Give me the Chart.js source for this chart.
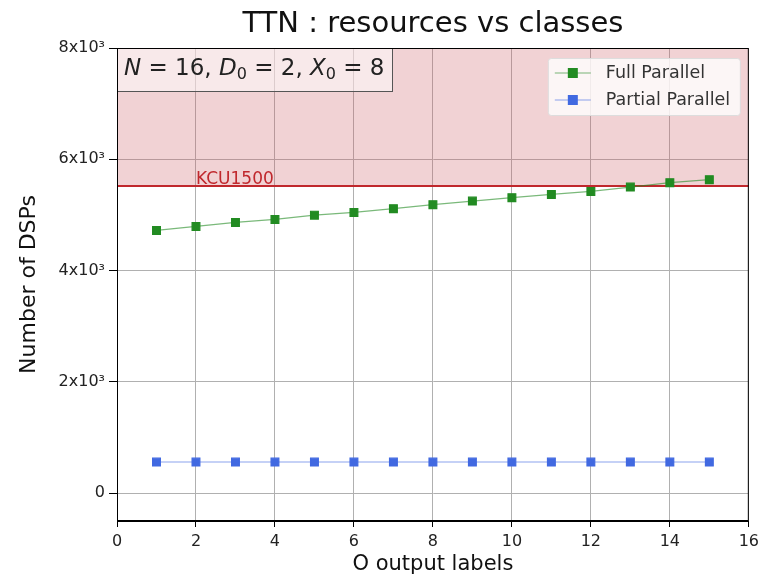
<!DOCTYPE html>
<html>
<head>
<meta charset="utf-8">
<script src="https://cdn.jsdelivr.net/npm/chart.js@4"></script>
<style>
  html, body { margin: 0; padding: 0; background: #fff; }
  #wrap { width: 764px; height: 577px; }
</style>
</head>
<body>
<div id="wrap"><canvas id="dspChart" width="764" height="577"></canvas></div>
<script>
// valores
const labelsO = [1, 2, 3, 4, 5, 6, 7, 8, 9, 10, 11, 12, 13, 14, 15];
const fullParallel = [4721, 4793, 4865, 4919, 4996, 5045, 5112, 5184, 5249, 5310, 5369, 5423, 5501, 5580, 5634];
const partialParallel = [560, 560, 560, 560, 560, 560, 560, 560, 560, 560, 560, 560, 560, 560, 560];
const kcuLimit = 5520;
const kcuSpan = [0, 16];
const yTicks = [0, 2000, 4000, 6000, 8000];
const xTicks = [0, 2, 4, 6, 8, 10, 12, 14, 16];

const fuente = "'DejaVu Sans', sans-serif";

function aPuntos(xs, ys) {
    return xs.map((x, i) => ({ x: x, y: ys[i] }));
}

function etiquetaY(v) {
    if (v === 0) return '0';
    return (v / 1000) + 'x10³';
}

// titulo, recuadro, texto KCU1500, anotacion y leyenda
const extras = {
    id: 'extras',
    afterDatasetsDraw(chart) {
        const ctx = chart.ctx;
        const a = chart.chartArea;
        const xs = chart.scales.x, ys = chart.scales.y;
        ctx.save();

        // titulo centrado sobre el area del grafico
        ctx.fillStyle = '#111';
        ctx.font = "29px " + fuente;
        ctx.textAlign = 'center';
        ctx.textBaseline = 'middle';
        ctx.fillText('TTN : resources vs classes', (a.left + a.right) / 2, 24);

        // texto KCU1500
        ctx.fillStyle = '#c0282d';
        ctx.font = "17px " + fuente;
        ctx.textBaseline = 'bottom';
        ctx.textAlign = 'left';
        ctx.fillText('KCU1500', xs.getPixelForValue(2), ys.getPixelForValue(kcuLimit) + 2);

        // caja de parametros
        ctx.fillStyle = 'rgba(255,255,255,0.5)';
        ctx.fillRect(a.left, a.top, 275, 43);
        ctx.strokeStyle = '#555';
        ctx.lineWidth = 1;
        ctx.strokeRect(a.left + 0.5, a.top + 0.5, 275, 43);
        ctx.fillStyle = '#222';
        ctx.textBaseline = 'middle';
        let px = a.left + 7;
        const py = a.top + 21;
        const partes = [
            ['italic', 'N'], ['normal', ' = 16, '], ['italic', 'D'], ['sub', '0'],
            ['normal', ' = 2, '], ['italic', 'X'], ['sub', '0'], ['normal', ' = 8']
        ];
        partes.forEach(p => {
            if (p[0] === 'sub') {
                ctx.font = "16px " + fuente;
                ctx.fillText(p[1], px, py + 6);
            } else {
                ctx.font = (p[0] === 'italic' ? 'italic ' : '') + "23px " + fuente;
                ctx.fillText(p[1], px, py);
            }
            px += ctx.measureText(p[1]).width;
        });

        // leyenda
        const lx = a.right - 201, ly = a.top + 10, lw = 192, lh = 57;
        ctx.fillStyle = 'rgba(255,255,255,0.8)';
        ctx.strokeStyle = '#ddd';
        ctx.beginPath();
        ctx.roundRect(lx + 0.5, ly + 0.5, lw, lh, 3);
        ctx.fill();
        ctx.stroke();
        const items = [
            ['Full Parallel', '#228b22', 'rgba(34,139,34,0.6)'],
            ['Partial Parallel', '#4169e1', 'rgba(65,105,225,0.6)']
        ];
        ctx.font = "17.5px " + fuente;
        ctx.textBaseline = 'middle';
        items.forEach((it, i) => {
            const y = ly + 15 + i * 27;
            ctx.strokeStyle = it[2];
            ctx.lineWidth = 1.2;
            ctx.beginPath();
            ctx.moveTo(lx + 7, y);
            ctx.lineTo(lx + 43, y);
            ctx.stroke();
            ctx.fillStyle = it[1];
            ctx.fillRect(lx + 20, y - 5, 10, 10);
            ctx.fillStyle = '#333';
            ctx.fillText(it[0], lx + 58, y);
        });

        // marco
        ctx.strokeStyle = '#000';
        ctx.lineWidth = 1;
        ctx.strokeRect(a.left + 0.5, a.top + 0.5, a.width - 1, a.height - 1);
        ctx.restore();
    }
};

const data = {
    datasets: [
        {
            label: 'KCU1500',
            data: aPuntos(kcuSpan, [kcuLimit, kcuLimit]),
            borderColor: '#c0282d',
            borderWidth: 2,
            backgroundColor: 'rgba(205,92,100,0.28)',
            fill: 'end',
            pointRadius: 0,
            order: 3
        },
        {
            label: 'Full Parallel',
            data: aPuntos(labelsO, fullParallel),
            borderColor: 'rgba(34,139,34,0.6)',
            borderWidth: 1.2,
            backgroundColor: '#228b22',
            pointBackgroundColor: '#228b22',
            pointBorderColor: '#228b22',
            pointStyle: 'rect',
            pointRadius: 5.5,
            order: 1
        },
        {
            label: 'Partial Parallel',
            data: aPuntos(labelsO, partialParallel),
            borderColor: 'rgba(65,105,225,0.6)',
            borderWidth: 1.2,
            backgroundColor: '#4169e1',
            pointBackgroundColor: '#4169e1',
            pointBorderColor: '#4169e1',
            pointStyle: 'rect',
            pointRadius: 5.5,
            order: 2
        }
    ]
};

const config = {
    type: 'line',
    data: data,
    options: {
        responsive: false,
        animation: false,
        layout: { padding: { left: 0, right: 14, top: 48, bottom: 0 } },
        plugins: {
            legend: { display: false },
            tooltip: { enabled: false },
            title: { display: false }
        },
        scales: {
            x: {
                type: 'linear',
                min: 0,
                max: 16,
                afterBuildTicks: (s) => { s.ticks = xTicks.map(v => ({ value: v })); },
                afterFit: (s) => { s.height = 56; },
                grid: { color: '#b0b0b0', lineWidth: 1, tickLength: 6, tickColor: '#000' },
                border: { color: '#000' },
                ticks: { color: '#222', font: { family: fuente, size: 16 }, padding: 5, maxRotation: 0 },
                title: { display: true, text: 'O output labels', color: '#111', font: { family: fuente, size: 21 }, padding: { top: 0, bottom: 0 } }
            },
            y: {
                type: 'linear',
                min: -500,
                max: 8000,
                afterBuildTicks: (s) => { s.ticks = yTicks.map(v => ({ value: v })); },
                afterFit: (s) => { s.width = 117; },
                grid: { color: '#b0b0b0', lineWidth: 1, tickLength: 8, tickColor: '#000' },
                border: { color: '#000' },
                ticks: { color: '#222', font: { family: fuente, size: 16 }, padding: 4, callback: etiquetaY },
                title: { display: true, text: 'Number of DSPs', color: '#111', font: { family: fuente, size: 22 }, padding: { top: 16, bottom: 0 } }
            }
        }
    },
    plugins: [extras]
};

new Chart(document.getElementById('dspChart').getContext('2d'), config);
</script>
</body>
</html>
